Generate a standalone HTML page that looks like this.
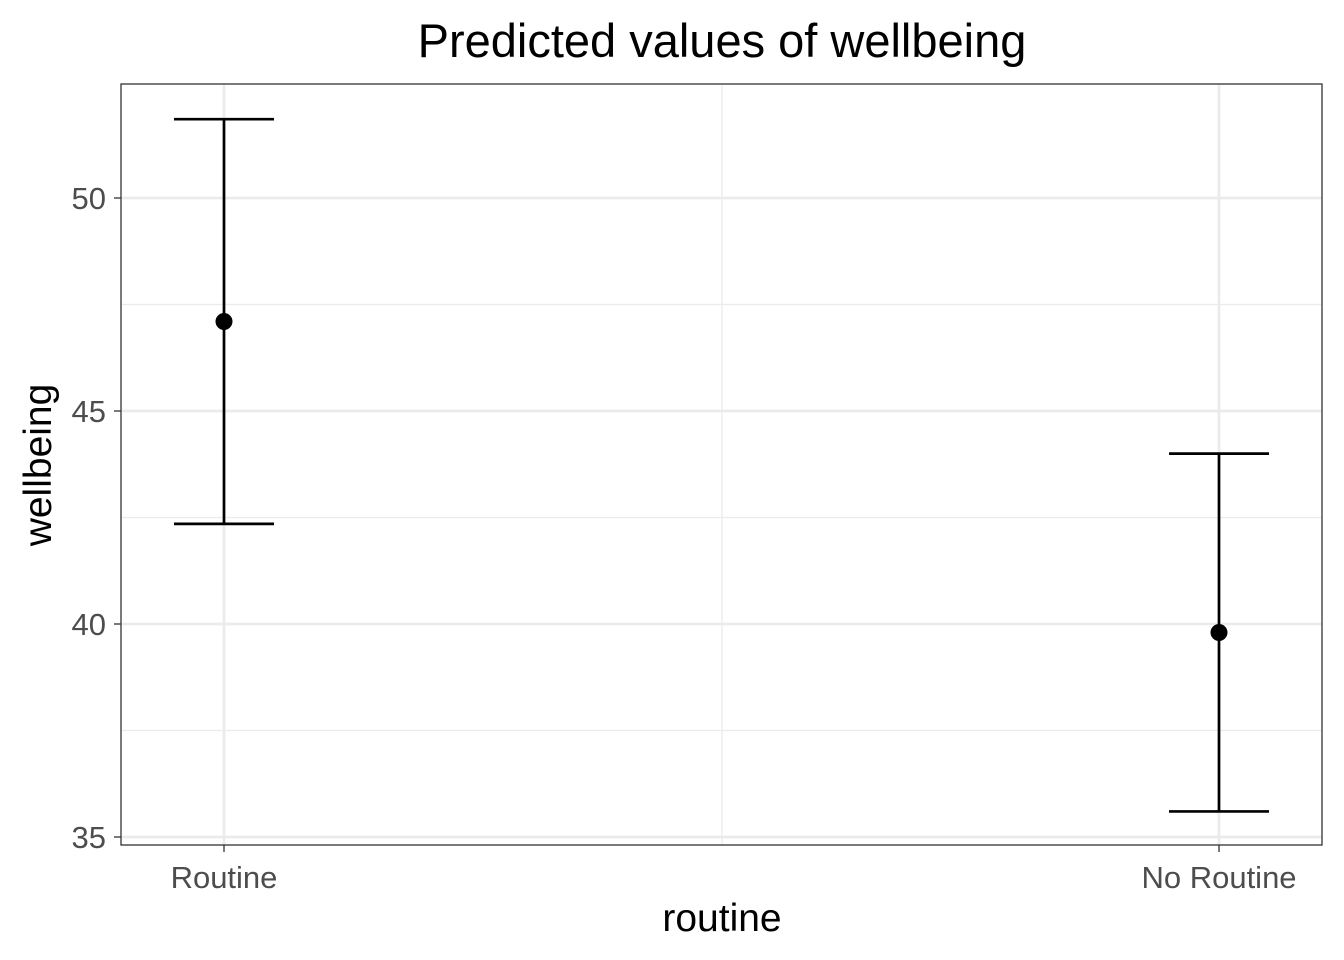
<!DOCTYPE html>
<html><head><meta charset="utf-8"><style>
body{margin:0;background:#fff;}
svg{display:block;font-family:"Liberation Sans",Arial,sans-serif;}
</style></head><body>
<svg id="chart" width="1344" height="960">
<text x="722" y="57" text-anchor="middle" font-size="47" fill="#000">Predicted values of wellbeing</text>
<rect x="121" y="84" width="1201" height="761" fill="#fff"/>
<g id="grid"></g>
<g id="marks"></g>
<rect x="121" y="84" width="1201" height="761" fill="none" stroke="#333" stroke-width="1.3"/>
<g id="axes"></g>
<text x="722" y="931" text-anchor="middle" font-size="39" fill="#000">routine</text>
<text transform="translate(51,465) rotate(-90)" text-anchor="middle" font-size="39" fill="#000">wellbeing</text>
</svg>
<script>
const categories=["Routine","No Routine"];
const predicted=[47.1,39.8];
const upper=[51.85,44.0];
const lower=[42.35,35.6];
const yTicks=[35,40,45,50];
const yMinor=[37.5,42.5,47.5];
const NS="http://www.w3.org/2000/svg";
function y(v){return 198+(50-v)*42.6;}
function x(i){return 224+i*995;}
function mk(p,t,a){const e=document.createElementNS(NS,t);for(const k in a)e.setAttribute(k,a[k]);document.getElementById(p).appendChild(e);return e;}
yMinor.forEach(v=>{const l=mk('grid','line',{x1:121,x2:1322,y1:y(v),y2:y(v),stroke:'#ebebeb','stroke-width':1.3});

});
mk('grid','line',{x1:722,x2:722,y1:84,y2:845,stroke:'#ebebeb','stroke-width':1.3});
yTicks.forEach(v=>{const l=mk('grid','line',{x1:121,x2:1322,y1:y(v),y2:y(v),stroke:'#ebebeb','stroke-width':2.7});


const t=mk('axes','line',{x1:114,x2:121,y1:y(v),y2:y(v),stroke:'#333','stroke-width':1.3});


const tx=mk('axes','text',{x:106,y:y(v)+11,'text-anchor':'end','font-size':31,fill:'#4d4d4d'});tx.textContent=v;

});
categories.forEach((c,i)=>{const X=x(i);
const g=mk('grid','line',{x1:X,x2:X,y1:84,y2:845,stroke:'#ebebeb','stroke-width':2.7});


const e=mk('marks','path',{d:`M${X-50},${y(upper[i])}H${X+50}M${X},${y(upper[i])}V${y(lower[i])}M${X-50},${y(lower[i])}H${X+50}`,stroke:'#000','stroke-width':2.7,fill:'none'});


const p=mk('marks','circle',{cx:X,cy:y(predicted[i]),r:8.5,fill:'#000'});


const t=mk('axes','line',{x1:X,x2:X,y1:845,y2:852,stroke:'#333','stroke-width':1.3});


const tx=mk('axes','text',{x:X,y:888,'text-anchor':'middle','font-size':31,fill:'#4d4d4d'});tx.textContent=c;

});
</script>
</body></html>
